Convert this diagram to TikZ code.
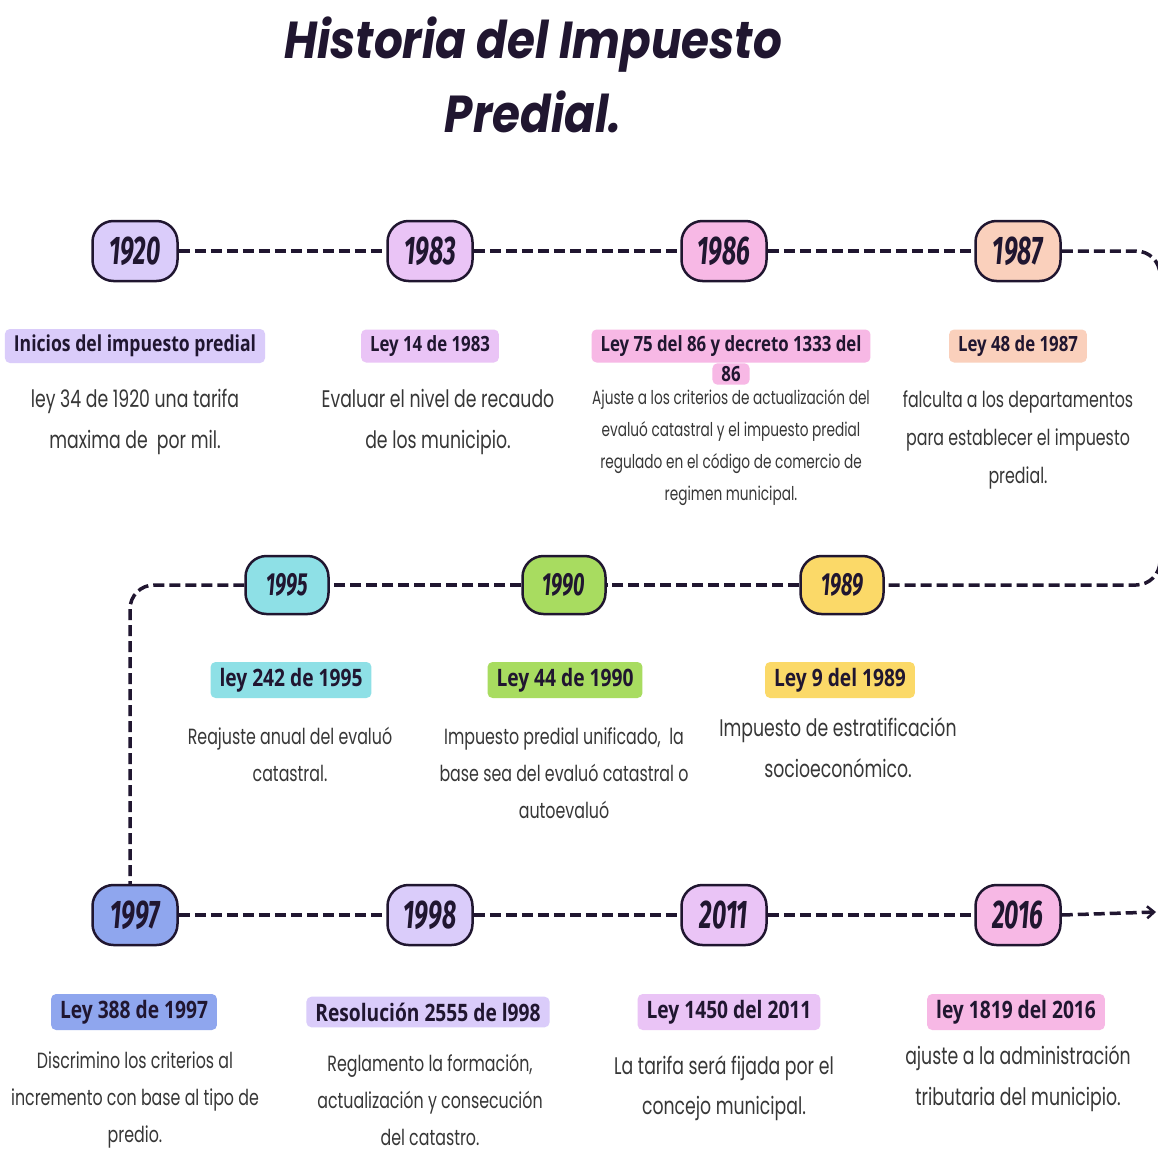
\documentclass[tikz,border=0pt]{standalone}
\usepackage{fontspec}
\usepackage{xcolor}
\usepackage{tikz}
\usetikzlibrary{arrows.meta}
\newfontfamily\titlefont{Poppins}[FakeStretch=0.87]
\newfontfamily\yearfont{Fira Sans}[FakeStretch=0.62]
\newfontfamily\lawfont{Open Sans}[FakeStretch=0.8]
\newfontfamily\descfont{Poppins}[FakeStretch=0.72]
\definecolor{ink}{RGB}{32,22,48}
\definecolor{textgray}{RGB}{55,55,55}
\definecolor{lavender}{RGB}{218,204,250}
\definecolor{orchid}{RGB}{234,196,246}
\definecolor{rosa}{RGB}{247,184,229}
\definecolor{peach}{RGB}{250,208,188}
\definecolor{cyanbox}{RGB}{142,224,230}
\definecolor{greenbox}{RGB}{168,220,96}
\definecolor{yellowbox}{RGB}{251,217,104}
\definecolor{bluebox}{RGB}{143,166,238}

\begin{document}
\begin{tikzpicture}[x=1pt, y=-1pt,
    year/.style={rectangle, rounded corners=21pt, minimum width=85pt, minimum height=60pt, draw=ink, line width=2.5pt, text=ink, font=\yearfont\bfseries\itshape\fontsize{40}{40}\selectfont},
    smallyear/.style={year, minimum width=83pt, minimum height=58pt, font=\yearfont\bfseries\itshape\fontsize{32}{32}\selectfont},
    law/.style={rectangle, rounded corners=5pt, inner xsep=9pt, inner ysep=6pt, text=ink, font=\lawfont\bfseries\fontsize{21}{23}\selectfont},
    bigtitle/.style={font=\titlefont\bfseries\itshape\fontsize{52}{52}\selectfont},
    desc/.style={align=center, text=textgray, font=\descfont\fontsize{24}{41}\selectfont},
    link/.style={draw=ink, line width=3.5pt, dash pattern=on 11pt off 5pt, rounded corners=24pt}]

    \useasboundingbox (0,0) rectangle (1158,1153);
    \fill[white] (0,0) rectangle (1158,1153);
    \clip (0,0) rectangle (1158,1153);

    % titulo
    \node[bigtitle, text=ink] (titulo1) at (533,45) {Historia del Impuesto};
    \node[bigtitle, text=ink] (titulo2) at (533,112) {Predial.};

    % primera fila
    \node[year, fill=lavender] (y1920) at (135,251) {1920};
    \node[year, fill=orchid] (y1983) at (430,251) {1983};
    \node[year, fill=rosa] (y1986) at (724,251) {1986};
    \node[year, fill=peach] (y1987) at (1018,251) {1987};

    \node[law, fill=lavender, font=\lawfont\bfseries\fontsize{22}{24}\selectfont] (l1920) at (135,346) {Inicios del impuesto predial};
    \node[law, fill=orchid] (l1983) at (430,346) {Ley 14 de 1983};
    \node[law, fill=rosa] (l1986) at (731,346) {Ley 75 del 86 y decreto 1333 del};
    \node[law, fill=rosa, inner ysep=3pt] (l1986b) at (731,374) {86};
    \node[law, fill=peach] (l1987) at (1018,346) {Ley 48 de 1987};

    \node[desc] (d1920) at (135,422) {ley 34 de 1920 una tarifa\\maxima de\ \ por mil.};
    \node[desc] (d1983) at (438,422) {Evaluar el nivel de recaudo\\de los municipio.};
    \node[desc, font=\descfont\fontsize{19}{32}\selectfont] (d1986) at (731,448) {Ajuste a los criterios de actualización del\\evaluó catastral y el impuesto predial\\regulado en el código de comercio de\\regimen municipal.};
    \node[desc, font=\descfont\fontsize{22}{38}\selectfont] (d1987) at (1018,440) {falculta a los departamentos\\para establecer el impuesto\\predial.};

    % segunda fila
    \node[smallyear, fill=cyanbox] (y1995) at (287,585) {1995};
    \node[smallyear, fill=greenbox] (y1990) at (564,585) {1990};
    \node[smallyear, fill=yellowbox] (y1989) at (842,585) {1989};

    \node[law, fill=cyanbox, font=\lawfont\bfseries\fontsize{24}{26}\selectfont] (l1995) at (291,680) {ley 242 de 1995};
    \node[law, fill=greenbox, font=\lawfont\bfseries\fontsize{24}{26}\selectfont] (l1990) at (565,680) {Ley 44 de 1990};
    \node[law, fill=yellowbox, font=\lawfont\bfseries\fontsize{24}{26}\selectfont] (l1989) at (840,680) {Ley 9 del 1989};

    \node[desc, font=\descfont\fontsize{22}{37}\selectfont] (d1995) at (290,754) {Reajuste anual del evaluó\\catastral.};
    \node[desc, font=\descfont\fontsize{22}{37}\selectfont] (d1990) at (564,773) {Impuesto predial unificado,\ \ la\\base sea del evaluó catastral o\\autoevaluó};
    \node[desc, font=\descfont\fontsize{24}{41}\selectfont] (d1989) at (838,748) {Impuesto de estratificación\\socioeconómico.};

    % tercera fila
    \node[year, fill=bluebox] (y1997) at (135,915) {1997};
    \node[year, fill=lavender] (y1998) at (430,915) {1998};
    \node[year, fill=orchid] (y2011) at (724,915) {2011};
    \node[year, fill=rosa] (y2016) at (1018,915) {2016};

    \node[law, fill=bluebox, font=\lawfont\bfseries\fontsize{24}{26}\selectfont] (l1997) at (134,1012) {Ley 388 de 1997};
    \node[law, fill=lavender, font=\lawfont\bfseries\fontsize{24}{26}\selectfont] (l1998) at (428,1012) {Resolución 2555 de l998};
    \node[law, fill=orchid, font=\lawfont\bfseries\fontsize{24}{26}\selectfont] (l2011) at (729,1012) {Ley 1450 del 2011};
    \node[law, fill=rosa, font=\lawfont\bfseries\fontsize{24}{26}\selectfont] (l2016) at (1016,1012) {ley 1819 del 2016};

    \node[desc, font=\descfont\fontsize{22}{37}\selectfont] (d1997) at (135,1100) {Discrimino los criterios al\\incremento con base al tipo de\\predio.};
    \node[desc, font=\descfont\fontsize{22}{37}\selectfont] (d1998) at (430,1100) {Reglamento la formación,\\actualización y consecución\\del catastro.};
    \node[desc, font=\descfont\fontsize{24}{40}\selectfont] (d2011) at (724,1088) {La tarifa será fijada por el\\concejo municipal.};
    \node[desc, font=\descfont\fontsize{24}{41}\selectfont] (d2016) at (1018,1079) {ajuste a la administración\\tributaria del municipio.};

    % vueltas y final de la linea
    \coordinate (derecha1) at (1160,251);
    \coordinate (derecha2) at (1160,585);
    \coordinate (izquierda) at (130,585);
    \coordinate (fin) at (1156,912);

    % conexiones
    \draw[link] (y1920) -- (y1983);
    \draw[link] (y1983) -- (y1986);
    \draw[link] (y1986) -- (y1987);
    \draw[link] (y1987) -- (derecha1) -- (derecha2) -- (y1989);
    \draw[link] (y1989) -- (y1990);
    \draw[link] (y1990) -- (y1995);
    \draw[link] (y1995) -- (izquierda) -- (izquierda |- y1997.north);
    \draw[link] (y1997) -- (y1998);
    \draw[link] (y1998) -- (y2011);
    \draw[link] (y2011) -- (y2016);
    \draw[link, -{Straight Barb[length=7pt, width=12pt, line width=2.5pt]}] (y2016.east) -- (fin);
\end{tikzpicture}
\end{document}
